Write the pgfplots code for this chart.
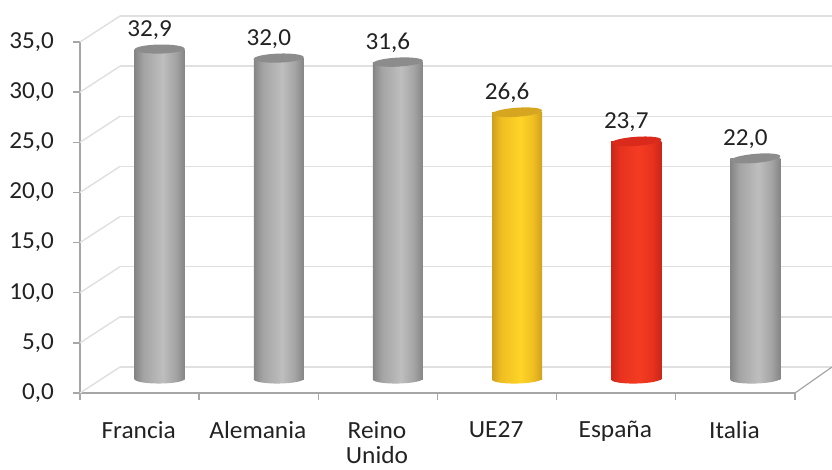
\documentclass[border=0pt]{standalone}
\usepackage{pgfplots}
\pgfplotsset{compat=1.18}
\usepackage{fontspec}
\setmainfont[FakeStretch=1.03]{Carlito}
\definecolor{txt}{HTML}{222222}
\definecolor{gridc}{HTML}{E0E0E0}
\definecolor{axc}{HTML}{A6A6A6}
\definecolor{capgray}{HTML}{8C8C8C}
\definecolor{capgold}{HTML}{D6A620}
\definecolor{capred}{HTML}{D92A1C}
\definecolor{s0}{HTML}{858585}\definecolor{s1}{HTML}{A4A4A4}\definecolor{s2}{HTML}{BEBEBE}
\pgfdeclarehorizontalshading{grayS}{100bp}{color(0bp)=(s0);color(25bp)=(s0);color(34bp)=(s1);color(53bp)=(s2);color(66bp)=(s1);color(75bp)=(s0);color(100bp)=(s0)}
\definecolor{g0}{HTML}{CFA01E}\definecolor{g1}{HTML}{EFBE22}\definecolor{g2}{HTML}{FFD426}
\definecolor{r0}{HTML}{CB261A}\definecolor{r1}{HTML}{E8321E}\definecolor{r2}{HTML}{F33C22}
\pgfdeclarehorizontalshading{goldS}{100bp}{color(0bp)=(g0);color(25bp)=(g0);color(34bp)=(g1);color(53bp)=(g2);color(66bp)=(g1);color(75bp)=(g0);color(100bp)=(g0)}
\pgfdeclarehorizontalshading{redS}{100bp}{color(0bp)=(r0);color(25bp)=(r0);color(34bp)=(r1);color(53bp)=(r2);color(66bp)=(r1);color(75bp)=(r0);color(100bp)=(r0)}
\pgfdeclareplotmark{cap}{\pgfpathellipse{\pgfpointorigin}{\pgfpoint{18.75pt}{0pt}}{\pgfpoint{0pt}{3.4pt}}\pgfusepathqfill}
\pgfdeclareplotmark{bgray}{\pgfpathellipse{\pgfpointorigin}{\pgfpoint{18.75pt}{0pt}}{\pgfpoint{0pt}{3.4pt}}\pgfshadepath{grayS}{0}\pgfusepath{discard}}
\pgfdeclareplotmark{bgold}{\pgfpathellipse{\pgfpointorigin}{\pgfpoint{18.75pt}{0pt}}{\pgfpoint{0pt}{3.4pt}}\pgfshadepath{goldS}{0}\pgfusepath{discard}}
\pgfdeclareplotmark{bred}{\pgfpathellipse{\pgfpointorigin}{\pgfpoint{18.75pt}{0pt}}{\pgfpoint{0pt}{3.4pt}}\pgfshadepath{redS}{0}\pgfusepath{discard}}
\newcommand{\onebar}[5]{% x, value, shading, capcolor, tilt; bottom mark name from #3
  \addplot[only marks,mark=b#3,mark options={rotate=#5/3}] coordinates {(#1,0)};
  \addplot[ybar,bar width=37.5pt,bar shift=0pt,draw=none,shade,shading=#3S] coordinates {(#1,#2)};
  \addplot[only marks,mark=cap,mark options={rotate=#5,color=#4},
    nodes near coords,
    every node near coord/.style={anchor=center,xshift=-7.5pt,yshift=14.5pt,font=\fontsize{18.3}{20}\selectfont,text=txt}]
    coordinates {(#1,#2)};
}
\begin{document}
\begin{tikzpicture}
\path[use as bounding box] (-60pt,-57pt) rectangle (564pt,294.75pt);
% back wall
\begin{axis}[at={(30pt,19.5pt)},anchor=south west,scale only axis,
  width=534pt,height=263.25pt,xmin=0,xmax=6,ymin=0,ymax=35,
  axis line style={draw=none},xtick=\empty,ytick={0,5,...,35},yticklabels={},
  major tick length=0pt,ymajorgrids,grid style={gridc,line width=1.1pt}]
\end{axis}
% front axis
\begin{axis}[at={(0pt,0pt)},anchor=south west,scale only axis,clip=false,
  width=536.25pt,height=263.25pt,xmin=0,xmax=6,ymin=0,ymax=35,
  axis x line*=bottom,axis y line*=left,
  axis line style={axc,line width=1.1pt,-},
  every tick/.style={axc,line width=1pt},
  tick align=outside,major tick length=5.5pt,
  ytick={0,5,...,35},xtick={0,...,6},
  x tick label as interval=true,
  xticklabels={Francia,Alemania,Reino\\Unido,UE27,España,Italia},
  x tick label style={align=center,anchor=north,inner ysep=0pt,yshift=-15.4pt,xshift=-0.7pt,font=\fontsize{18.5}{19}\selectfont,text=txt},
  y tick label style={font=\fontsize{18.3}{20}\selectfont,text=txt,xshift=-10.5pt},
  /pgf/number format/.cd,fixed,fixed zerofill,precision=1,use comma,assume math mode=true]
  \pgfplotsinvokeforeach{0,5,...,35}{
    \draw[gridc,line width=1.1pt] (axis cs:0,#1) -- ++(30pt,19.5pt);
  }
  \draw[axc,line width=0.9pt] (axis cs:6,0) -- (564pt,19.5pt);
\end{axis}
% cylinders, standing halfway into the depth
\begin{axis}[at={(15pt,10.5pt)},anchor=south west,scale only axis,clip=false,
  width=536.25pt,height=263.25pt,xmin=0,xmax=6,ymin=0,ymax=35,
  hide axis,
  /pgf/number format/.cd,fixed,fixed zerofill,precision=1,use comma,assume math mode=true]
  \onebar{0.5}{32.9}{gray}{capgray}{1}
  \onebar{1.5}{32.0}{gray}{capgray}{2}
  \onebar{2.5}{31.6}{gray}{capgray}{3}
  \onebar{3.5}{26.6}{gold}{capgold}{4}
  \onebar{4.5}{23.7}{red}{capred}{4}
  \onebar{5.5}{22.0}{gray}{capgray}{5}
\end{axis}
\end{tikzpicture}
\end{document}
